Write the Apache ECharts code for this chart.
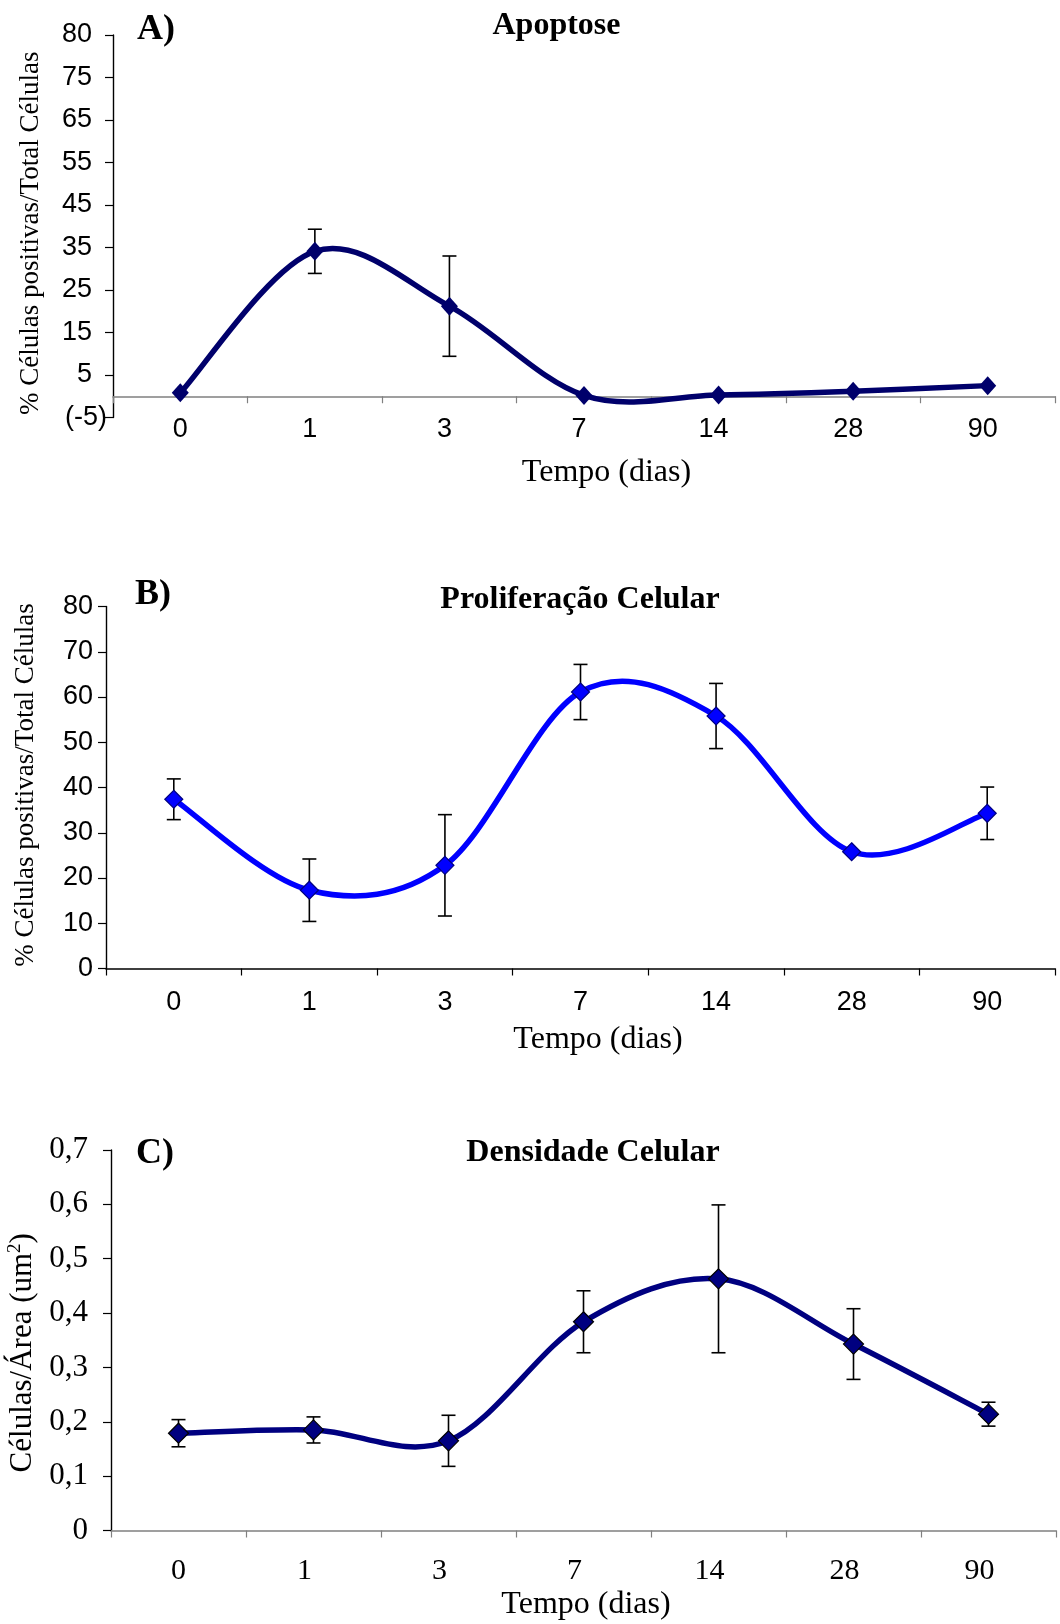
<!DOCTYPE html>
<html>
<head>
<meta charset="utf-8">
<script src="https://cdn.jsdelivr.net/npm/echarts@6/dist/echarts.min.js"></script>
<style>
html,body{margin:0;padding:0;background:#fff;}
#chart{width:1060px;height:1624px;}
</style>
</head>
<body>
<div id="chart"></div>
<script>
// ---- data ----
const categories = ['0', '1', '3', '7', '14', '28', '90'];

const apoptoseMean = [0.8, 34.1, 21.2, 0.2, 0.3, 1.2, 2.5];
const apoptoseErr  = [0, 5.2, 11.8, 0, 0, 0, 0];

const prolifMean = [37.4, 17.3, 22.8, 61.1, 55.8, 25.8, 34.3];
const prolifErr  = [4.5, 6.9, 11.2, 6.1, 7.2, 0, 5.8];

const densMean = [0.179, 0.185, 0.165, 0.384, 0.463, 0.343, 0.214];
const densErr  = [0.025, 0.024, 0.047, 0.057, 0.136, 0.065, 0.022];

const ticksA = ['(-5)', '5', '15', '25', '35', '45', '55', '65', '75', '80'];
const ticksB = ['0', '10', '20', '30', '40', '50', '60', '70', '80'];
const ticksC = ['0', '0,1', '0,2', '0,3', '0,4', '0,5', '0,6', '0,7'];

const panelLetters = ['A)', 'B)', 'C)'];
const panelTitles = ['Apoptose', 'Proliferação Celular', 'Densidade Celular'];
const xName = 'Tempo (dias)';
const yNameAB = '% Células positivas/Total Células';
const yNameC = '{n|Células/Área (um}{s|2}{n|)}';

// ---- chart ----
const SANS = '"Liberation Sans", Arial, sans-serif';
const SERIF = '"Liberation Serif", "Times New Roman", serif';

function errRender(params, api) {
  const x = api.value(0), y = api.value(1), e = api.value(2);
  if (!e) return null;
  const top = api.coord([x, y + e]);
  const bot = api.coord([x, y - e]);
  const w = 7;
  const st = { stroke: '#000', lineWidth: 1.6 };
  return {
    type: 'group',
    children: [
      { type: 'line', shape: { x1: top[0], y1: top[1], x2: bot[0], y2: bot[1] }, style: st },
      { type: 'line', shape: { x1: top[0] - w, y1: top[1], x2: top[0] + w, y2: top[1] }, style: st },
      { type: 'line', shape: { x1: bot[0] - w, y1: bot[1], x2: bot[0] + w, y2: bot[1] }, style: st }
    ]
  };
}

// smoothed (Catmull-Rom style) curve segment from point i to i+1
function makeCurveRender(mean, color, width) {
  return function (params, api) {
    const i = params.dataIndex;
    const n = mean.length;
    if (i >= n - 1) return null;
    const P = j => { const k = Math.max(0, Math.min(n - 1, j)); return api.coord([k, mean[k]]); };
    const p0 = P(i - 1), p1 = P(i), p2 = P(i + 1), p3 = P(i + 2);
    const c1 = [p1[0] + (p2[0] - p0[0]) / 6, p1[1] + (p2[1] - p0[1]) / 6];
    const c2 = [p2[0] - (p3[0] - p1[0]) / 6, p2[1] - (p3[1] - p1[1]) / 6];
    return {
      type: 'bezierCurve',
      shape: { x1: p1[0], y1: p1[1], x2: p2[0], y2: p2[1], cpx1: c1[0], cpy1: c1[1], cpx2: c2[0], cpy2: c2[1] },
      style: { stroke: color, lineWidth: width, fill: null, lineCap: 'round' }
    };
  };
}

function xAxisCfg(gi, lineColor, labelFont, labelSize, margin, shift, nameGap, namePad) {
  return {
    gridIndex: gi, type: 'category', data: categories, boundaryGap: true,
    axisLine: { show: true, onZero: true, lineStyle: { color: lineColor, width: 1.6 } },
    axisTick: { show: true, inside: false, length: 7, alignWithLabel: false, lineStyle: { color: lineColor, width: 1.2 } },
    axisLabel: {
      show: true, interval: 0, margin: margin, fontFamily: labelFont, fontSize: labelSize, color: '#000',
      formatter: (v, i) => i === 0 ? '{q|' + v + '}' : '{p|' + v + '}',
      rich: {
        p: { fontFamily: labelFont, fontSize: labelSize, color: '#000', padding: [0, shift, 0, 0] },
        q: { fontFamily: labelFont, fontSize: labelSize, color: '#000' }
      }
    },
    splitLine: { show: false },
    name: xName, nameLocation: 'middle', nameGap: nameGap,
    nameTextStyle: { fontFamily: SERIF, fontSize: 32, color: '#000', padding: [0, 0, 0, namePad] }
  };
}

function yAxisCfg(gi, min, max, interval, fmt, labelFont, labelSize, margin, name, nameSize, nameGap, namePad, rich) {
  return {
    gridIndex: gi, type: 'value', min: min, max: max, interval: interval,
    axisLine: { show: true, onZero: false, lineStyle: { color: '#000', width: 1.4 } },
    axisTick: { show: true, inside: false, length: 8, lineStyle: { color: '#000', width: 1.2 } },
    axisLabel: {
      show: true, margin: margin, formatter: fmt, fontFamily: labelFont, fontSize: labelSize, color: '#000',
      rich: {
        p: { fontFamily: labelFont, fontSize: labelSize, color: '#000', padding: [0, 15, 0, 0] },
        q: { fontFamily: labelFont, fontSize: labelSize, color: '#000' }
      }
    },
    splitLine: { show: false },
    name: name, nameLocation: 'middle', nameRotate: 90, nameGap: nameGap,
    nameTextStyle: { fontFamily: SERIF, fontSize: nameSize, color: '#000', padding: namePad, rich: rich }
  };
}

function curveSeries(gi, mean, color) {
  return {
    type: 'custom', xAxisIndex: gi, yAxisIndex: gi, renderItem: makeCurveRender(mean, color, 5.5),
    data: mean.map((v, i) => [i, v]), encode: { x: 0, y: 1 }, z: 3, silent: true
  };
}

function markerSeries(gi, mean, color, size, border) {
  return {
    type: 'scatter', xAxisIndex: gi, yAxisIndex: gi, data: mean,
    symbol: 'diamond', symbolSize: size,
    itemStyle: { color: color, borderColor: border || color, borderWidth: border ? 1.2 : 0, opacity: 1 },
    z: 4, silent: true
  };
}

function errSeries(gi, mean, err) {
  return {
    type: 'custom', xAxisIndex: gi, yAxisIndex: gi, renderItem: errRender,
    data: mean.map((v, i) => [i, v, err[i]]),
    encode: { x: 0, y: 1 }, z: 2, silent: true
  };
}

const letterPos = [[137, 30], [135, 595], [136, 1154]];
const titlePos = [[556.5, 26], [580, 600], [593, 1153]];

const graphics = [];
for (let i = 0; i < 3; i++) {
  graphics.push({
    type: 'text', x: letterPos[i][0], y: letterPos[i][1],
    style: { text: panelLetters[i], fontFamily: SERIF, fontWeight: 'bold', fontSize: 36, fill: '#000', align: 'left', verticalAlign: 'middle' }
  });
  graphics.push({
    type: 'text', x: titlePos[i][0], y: titlePos[i][1],
    style: { text: panelTitles[i], fontFamily: SERIF, fontWeight: 'bold', fontSize: 32, fill: '#000', align: 'center', verticalAlign: 'middle' }
  });
}

const richC = {
  n: { fontFamily: SERIF, fontSize: 31, color: '#000', lineHeight: 34 },
  s: { fontFamily: SERIF, fontSize: 19, color: '#000', verticalAlign: 'top', lineHeight: 34 }
};

const option = {
  animation: false,
  backgroundColor: '#ffffff',
  tooltip: { show: false },
  legend: { show: false },
  grid: [
    { left: 113, right: 5, top: 35, height: 382.5, containLabel: false, outerBoundsMode: 'none' },
    { left: 106, right: 5, top: 606.5, height: 362, containLabel: false, outerBoundsMode: 'none' },
    { left: 111, right: 4, top: 1150, height: 380.5, containLabel: false, outerBoundsMode: 'none' }
  ],
  xAxis: [
    xAxisCfg(0, '#808080', SANS, 27, -1, 10, 39, 45),
    xAxisCfg(1, '#000000', SANS, 27, 21, 0, 55, 35),
    xAxisCfg(2, '#808080', SERIF, 30, 26, 18, 58, 5)
  ],
  yAxis: [
    yAxisCfg(0, -5, 85, 10, v => { const k = Math.round((v + 5) / 10); return k === 0 ? '{q|' + ticksA[k] + '}' : '{p|' + ticksA[k] + '}'; },
      SANS, 27, 6, yNameAB, 27, 69, [0, 14, 0, 0], null),
    yAxisCfg(1, 0, 80, 10, v => ticksB[Math.round(v / 10)], SANS, 27, 13, yNameAB, 27, 67, [0, 0, 0, 5], null),
    yAxisCfg(2, 0, 0.7, 0.1, v => ticksC[Math.round(v * 10)], SERIF, 31, 23, yNameC, 31, 63, [0, 25, 0, 0], richC)
  ],
  graphic: graphics,
  series: [
    errSeries(0, apoptoseMean, apoptoseErr),
    curveSeries(0, apoptoseMean, '#00006b'),
    markerSeries(0, apoptoseMean, '#00006b', [17, 19], null),
    errSeries(1, prolifMean, prolifErr),
    curveSeries(1, prolifMean, '#0000ff'),
    markerSeries(1, prolifMean, '#0000ff', [18, 18], '#000080'),
    errSeries(2, densMean, densErr),
    curveSeries(2, densMean, '#000080'),
    markerSeries(2, densMean, '#000080', [20, 20], '#000000')
  ]
};

const chart = echarts.init(document.getElementById('chart'), null, { renderer: 'canvas', width: 1060, height: 1624 });
chart.setOption(option);
</script>
</body>
</html>
